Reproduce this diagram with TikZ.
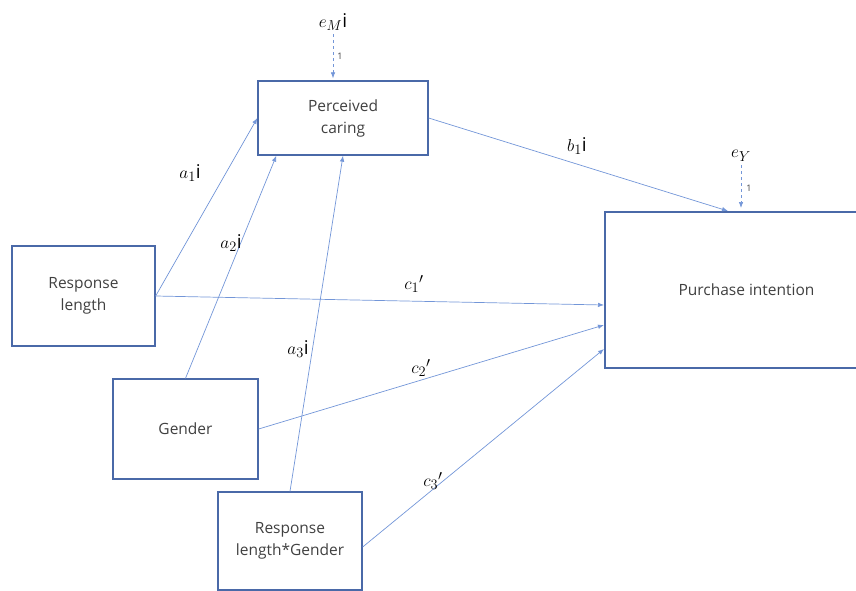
\documentclass[tikz,border=0pt]{standalone}
\usepackage{fontspec}
\setmainfont{Open Sans}
\usepackage{tikz}
\usetikzlibrary{arrows.meta,positioning}
\definecolor{boxblue}{HTML}{4A69A8}
\definecolor{lineblue}{HTML}{7396D8}
\tikzstyle{varbox}=[draw=boxblue, line width=1.3pt, rectangle, align=center, text=black!75, inner sep=0pt, font=\fontsize{15.5}{22}\selectfont]
\tikzstyle{effect}=[draw=lineblue, line width=0.7pt, -{Latex[length=6pt,width=4.5pt]}]
\tikzstyle{resid}=[effect, dashed]
\tikzstyle{coef}=[font=\fontsize{19}{19}\selectfont]
\tikzstyle{fixed}=[font=\fontsize{9}{9}\selectfont, text=black!75]

\begin{document}
\begin{tikzpicture}[x=1pt,y=-1pt]
    \useasboundingbox (0,0) rectangle (856,591);
    % variables
    \node[varbox, minimum width=170pt, minimum height=74pt] (pc) at (343,118) {Perceived\\caring};
    \node[varbox, line width=2pt, minimum width=283pt, minimum height=156pt] (pi) at (746.5,290) {Purchase intention};
    \node[varbox, minimum width=143pt, minimum height=100pt] (rl) at (83.5,296) {Response\\length};
    \node[varbox, minimum width=145pt, minimum height=100pt] (gen) at (185.5,429) {Gender};
    \node[varbox, minimum width=144pt, minimum height=98pt] (rlg) at (290,541) {Response\\length*Gender};
    % residuals
    \node[coef] (em) at (333,22) {$e_M\mathrm{i}$};
    \node[coef] (ey) at (741,156) {$e_Y$};
    \draw[resid] (em.south) -- ([xshift=-10pt,yshift=2pt]pc.north);
    \draw[resid] (ey.south) -- ([xshift=-5.5pt,yshift=3pt]pi.north);
    \node[fixed] (fm) at (340,56) {1};
    \node[fixed] (fy) at (749,188) {1};
    % paths
    \draw[effect] (rl.east) -- (pc.west);
    \draw[effect] (gen.north) -- ([xshift=19pt]pc.south west);
    \draw[effect] (rlg.north) -- (pc.south);
    \draw[effect] (pc.east) -- ([xshift=124pt]pi.north west);
    \draw[effect] (rl.east) -- ([yshift=-15pt]pi.west);
    \draw[effect] (gen.east) -- ([yshift=-35pt]pi.west);
    \draw[effect] ([yshift=-6pt]rlg.east) -- ([yshift=-59pt]pi.west);
    % coefficients
    \node[coef] (la1) at (190,173) {$a_1\mathrm{i}$};
    \node[coef] (la2) at (231,243) {$a_2\mathrm{i}$};
    \node[coef] (la3) at (298,349) {$a_3\mathrm{i}$};
    \node[coef] (lb1) at (577,146) {$b_1\mathrm{i}$};
    \node[coef] (lc1) at (414,284) {$c_1{}'$};
    \node[coef] (lc2) at (421,368) {$c_2{}'$};
    \node[coef] (lc3) at (433,481) {$c_3{}'$};
\end{tikzpicture}
\end{document}
